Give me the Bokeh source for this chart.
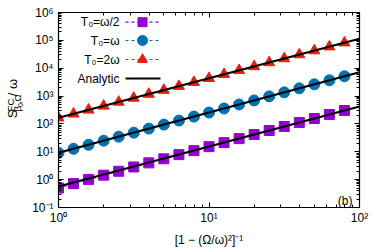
import math
from bokeh.plotting import figure
from bokeh.layouts import row
from bokeh.models import (LogAxis, FixedTicker, CustomJSTickFormatter, Range1d,
                          LinearScale, Label)
from bokeh.core.properties import value
from bokeh.embed import file_html
from bokeh.resources import INLINE

# ---------------- data ----------------
x_pts = [1.0, 1.259, 1.585, 1.995, 2.512, 3.162, 3.981, 5.012, 6.310, 7.943,
         10.0, 12.59, 15.85, 19.95, 25.12, 31.62, 39.81, 50.12, 63.10, 79.43]
s_half = [0.50, 0.72, 1.02, 1.45, 2.0, 2.85, 4.0, 5.6, 7.9, 11.0,
          15.3, 21.3, 29.7, 41.7, 58.1, 80.8, 112, 156, 218, 303]
s_one = [9.2, 12.8, 17.9, 25.0, 34.9, 48.6, 67.9, 94.7, 132, 184,
         257, 359, 500, 698, 974, 1358, 1895, 2644, 3688, 5145]
s_two = [166, 230, 319, 442, 613, 849, 1177, 1632, 2262, 3135,
         4345, 6023, 8348, 11570, 16040, 22230, 30820, 42720, 59200, 82100]
x_line = [1.0, 100.0]
an_half = [0.57, 423]
an_one = [9.2, 7200]
an_two = [166, 114000]

labels = ["T\u2080=\u03c9/2", "T\u2080=\u03c9", "T\u2080=2\u03c9", "Analytic"]
colors = ["#9400d3", "#0072b2", "#e51e10"]
markers = ["square", "circle", "triangle"]
msizes = [10, 11, 11]
x_title = "[1 \u2212 (\u03a9/\u03c9)\u00b2]\u207b\u00b9"

FONT = "Liberation Sans"
W_LEFT = 26
H = 249

p = figure(width=374 - W_LEFT, height=H, x_axis_type="log", y_axis_type="log",
           x_range=Range1d(1, 100), y_range=Range1d(0.1, 1e6),
           output_backend="svg", toolbar_location=None,
           min_border_left=58 - W_LEFT, min_border_right=15, min_border_top=12,
           min_border_bottom=42)
p.extra_x_ranges = {"f": Range1d(0, 1)}
p.extra_y_ranges = {"f": Range1d(0, 1)}
p.extra_x_scales = {"f": LinearScale()}
p.extra_y_scales = {"f": LinearScale()}
p.xgrid.visible = False
p.ygrid.visible = False
p.outline_line_color = "black"
p.outline_line_width = 1.2

fmt_code = """
const e = Math.round(Math.log10(tick));
const sup = {'-':'\u207b','0':'\u2070','1':'\u00b9','2':'\u00b2','3':'\u00b3','4':'\u2074','5':'\u2075','6':'\u2076','7':'\u2077','8':'\u2078','9':'\u2079'};
return '10' + String(e).split('').map(c => sup[c]).join('');
"""
xmaj = [1, 10, 100]
xmin = [m * d for d in [1, 10] for m in range(2, 10)]
ymaj = [10.0 ** e for e in range(-1, 7)]
ymin = [m * 10.0 ** e for e in range(-1, 6) for m in range(2, 10)]

def style(ax, show):
    ax.major_tick_in = 5
    ax.major_tick_out = 0
    ax.minor_tick_in = 3
    ax.minor_tick_out = 0
    ax.axis_line_color = "black"
    ax.major_tick_line_color = "black"
    ax.minor_tick_line_color = "black"
    if show:
        ax.formatter = CustomJSTickFormatter(code=fmt_code)
        ax.major_label_text_font = FONT
        ax.major_label_text_font_size = "12px"
        ax.major_label_text_color = "black"
    else:
        ax.formatter = CustomJSTickFormatter(code="return '';")
        ax.major_label_text_font_size = "0px"
        ax.major_label_standoff = 0

p.xaxis.ticker = FixedTicker(ticks=xmaj, minor_ticks=xmin)
p.yaxis.ticker = FixedTicker(ticks=ymaj, minor_ticks=ymin)
style(p.xaxis[0], True)
style(p.yaxis[0], True)
p.xaxis[0].major_label_standoff = 3
p.yaxis[0].major_label_standoff = 5
p.xaxis[0].axis_label = x_title
p.xaxis[0].axis_label_text_font = FONT
p.xaxis[0].axis_label_text_font_size = "12px"
p.xaxis[0].axis_label_text_font_style = "normal"
p.xaxis[0].axis_label_text_color = "black"
p.xaxis[0].axis_label_standoff = 5

top = LogAxis(ticker=FixedTicker(ticks=xmaj, minor_ticks=xmin))
right = LogAxis(ticker=FixedTicker(ticks=ymaj, minor_ticks=ymin))
style(top, False)
style(right, False)
p.add_layout(top, "above")
p.add_layout(right, "right")

# ---------------- data series ----------------
for ys, c, m, s in zip([s_half, s_one, s_two], colors, markers, msizes):
    p.line(x_pts, ys, line_color=c, line_dash="3 3", line_width=1.2)
    p.scatter(x_pts, ys, marker=m, size=s, fill_color=c, line_color=c)
for ys in [an_half, an_one, an_two]:
    p.line(x_line, ys, line_color="black", line_width=2)

# ---------------- legend (frame-fraction coordinates) ----------------
def fx(px):
    return (px - 58) / 301.0

def fy(py):
    return (207 - py) / 195.0

rows = [21.7, 40.0, 59.0, 78.0]
for i, lab in enumerate(labels):
    r = fy(rows[i])
    p.add_layout(Label(x=fx(119), y=r, x_range_name="f", y_range_name="f",
                       text=lab, text_align="right", text_baseline="middle",
                       text_font=FONT, text_font_size="12px", text_color="black"))
    if i < 3:
        p.line([fx(125), fx(160)], [r, r], x_range_name="f", y_range_name="f",
               line_color=colors[i], line_dash="3 3", line_width=1.2)
        p.scatter([fx(142)], [r], x_range_name="f", y_range_name="f",
                  marker=markers[i], size=msizes[i] - 1,
                  fill_color=colors[i], line_color=colors[i])
    else:
        p.line([fx(125), fx(160)], [r, r], x_range_name="f", y_range_name="f",
               line_color="black", line_width=2)

p.add_layout(Label(x=fx(352), y=fy(200), x_range_name="f", y_range_name="f",
                   text="(b)", text_align="right", text_baseline="middle",
                   text_font=FONT, text_font_size="12px", text_color="black"))

# ---------------- y axis title in a narrow side figure ----------------
q = figure(width=W_LEFT, height=H, x_range=Range1d(0, W_LEFT), y_range=Range1d(0, H),
           output_backend="svg", toolbar_location=None,
           x_axis_location=None, y_axis_location=None,
           min_border=0, min_border_left=0, min_border_right=0,
           min_border_top=0, min_border_bottom=0)
q.xgrid.visible = False
q.ygrid.visible = False
q.outline_line_color = None

# (text, font size, centre x in page px, start y in page px)
pieces = [("S", "13px", 12.0, 135), ("FC", "9.5px", 9.7, 126.3),
          ("\u03b2", "9.5px", 17.2, 126.3), ("0", "7px", 19.5, 120.8),
          (",\u03a9", "9.5px", 17.2, 116.9), (" / \u03c9", "13px", 12.0, 107)]
for t, fs, cx, sy in pieces:
    q.text(x=[cx], y=[H - sy], text=[t], angle=math.pi / 2,
           text_align="left", text_baseline="middle",
           text_font=value(FONT), text_font_size=fs, text_color="black")

layout = row(q, p, spacing=0)
open("out.html", "w").write(file_html(layout, INLINE))
